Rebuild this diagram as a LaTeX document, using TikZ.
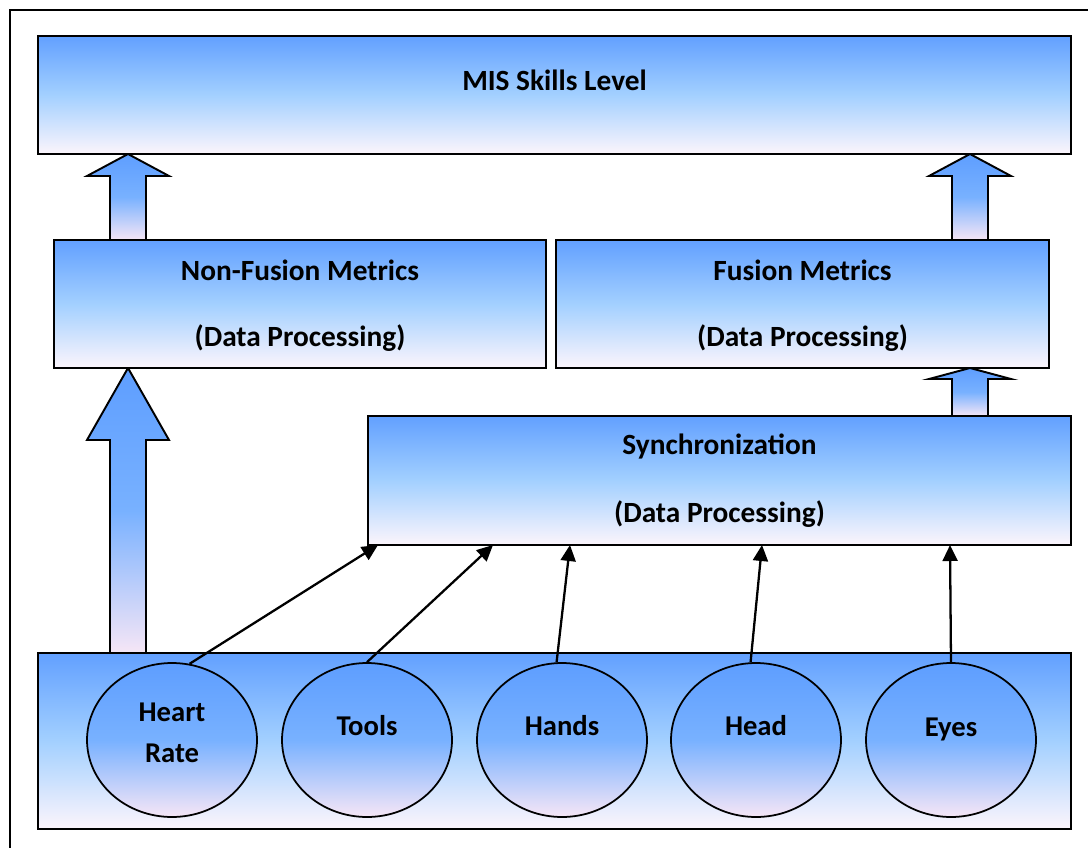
\documentclass[tikz,border=0pt]{standalone}
\usepackage{fontspec}
\setmainfont{Carlito}
\usetikzlibrary{arrows.meta,shapes.geometric}
\definecolor{boxtop}{HTML}{62A0FF}
\definecolor{boxmid}{HTML}{A3D0FF}
\definecolor{boxlow}{HTML}{FCF5FC}
\definecolor{ovaltop}{HTML}{5E9EFF}
\definecolor{ovalmid}{HTML}{78B1FF}
\definecolor{ovallow}{HTML}{F6E6F6}
\newcommand{\bigup}[4]{% x, tip, head base, bottom
    \path[draw, line width=1.1pt, top color=ovaltop, bottom color=ovallow, middle color=ovalmid]
        ({#1-18},#4) -- ({#1-18},#3) -- ({#1-41},#3) -- (#1,#2)
        -- ({#1+41},#3) -- ({#1+18},#3) -- ({#1+18},#4) -- cycle;}

\begin{document}
\begin{tikzpicture}[x=0.02cm,y=-0.02cm]
    \tikzstyle{panel}=[draw, line width=1.1pt, top color=boxtop, bottom color=boxlow, middle color=boxmid, inner sep=0pt]
    \tikzstyle{sensor}=[ellipse, draw, line width=1pt, top color=ovaltop, bottom color=ovallow, middle color=ovalmid, minimum width=3.4cm, minimum height=3.08cm]
    \tikzstyle{boxtext}=[font=\fontsize{16.7}{19}\selectfont\bfseries]
    \tikzstyle{sensortext}=[align=center, font=\fontsize{16.3}{23}\selectfont\bfseries]
    \tikzstyle{feed}=[line width=1.3pt, -{Triangle[length=0.32cm,width=0.3cm]}]
    \useasboundingbox (0,0) rectangle (1088,848);
    \draw[line width=1.1pt] (10,10) rectangle (1110,870);

    % block arrows
    \bigup{128}{154}{176}{240}
    \bigup{970}{154}{176}{240}
    \bigup{970}{368}{379}{416}
    \bigup{128}{368}{440}{653}

    % boxes
    \node[panel, minimum width=20.66cm, minimum height=2.36cm] (mis) at (554.5,95) {};
    \node[boxtext] (mist) at (554.5,80) {MIS Skills Level};
    \node[panel, minimum width=9.84cm, minimum height=2.56cm] (nonfus) at (300,304) {};
    \node[boxtext] (nonfust) at (300,270) {Non-Fusion Metrics};
    \node[boxtext] (nonfusp) at (300,338) {(Data Processing)};
    \node[panel, minimum width=9.86cm, minimum height=2.56cm] (fus) at (802.5,304) {};
    \node[boxtext] (fust) at (802.5,270) {Fusion Metrics};
    \node[boxtext] (fusp) at (802.5,338) {(Data Processing)};
    \node[panel, minimum width=14.06cm, minimum height=2.58cm] (sync) at (719.5,480.5) {};
    \node[boxtext] (synct) at (719.5,446) {Synchronization};
    \node[boxtext] (syncp) at (719.5,514) {(Data Processing)};
    \node[panel, minimum width=20.66cm, minimum height=3.52cm] (sens) at (554.5,741) {};

    % sensors
    \node[sensor] (hr) at (172,740) {};
    \node[sensortext] (hrt) at (172,733) {Heart\\Rate};
    \node[sensor] (tools) at (367,740) {};
    \node[sensortext] (toolst) at (367,726) {Tools};
    \node[sensor] (hands) at (562,740) {};
    \node[sensortext] (handst) at (562,726) {Hands};
    \node[sensor] (head) at (756,740) {};
    \node[sensortext] (headt) at (756,726) {Head};
    \node[sensor] (eyes) at (951,740) {};
    \node[sensortext] (eyest) at (951,729) {Eyes};

    % inputs to synchronization
    \coordinate (in1) at (378,545);
    \coordinate (in2) at (493,545);
    \coordinate (in3) at (570,545);
    \coordinate (in4) at (762,545);
    \coordinate (in5) at (950,545);
    \draw[feed] (hr.77) -- (in1);
    \draw[feed] (tools.north) -- (in2);
    \draw[feed] (hands.94) -- (in3);
    \draw[feed] (head.94) -- (in4);
    \draw[feed] (eyes.north) -- (in5);
\end{tikzpicture}
\end{document}
